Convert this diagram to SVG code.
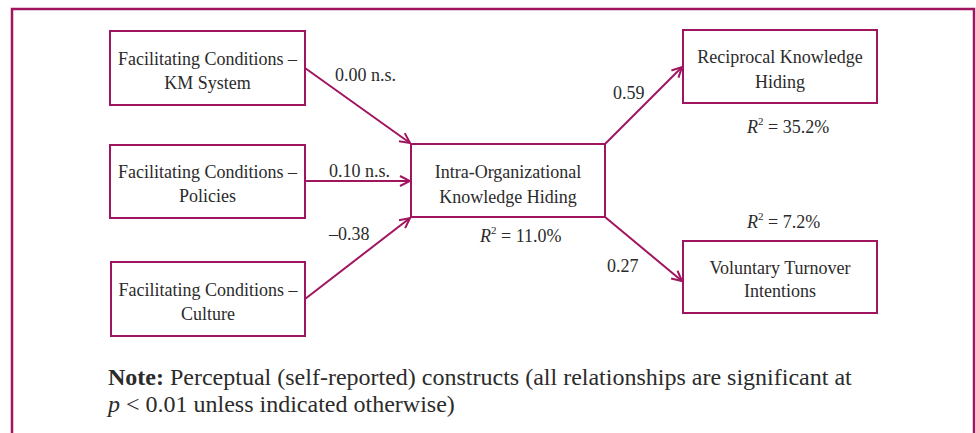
<svg xmlns="http://www.w3.org/2000/svg" width="976" height="433" viewBox="0 0 976 433" font-family="'Liberation Serif', 'DejaVu Serif', serif">
<defs>
<style>
.box{fill:#fff;stroke:#a0155f;stroke-width:2}
.edge{stroke:#a0155f;stroke-width:2;fill:none;marker-end:url(#arr)}
text{font-family:'Liberation Serif','DejaVu Serif',serif;fill:#2b2b2b;font-size:18px}
.c{text-anchor:middle}
.note{font-size:24px}
</style>
<marker id="arr" viewBox="0 0 12 12" refX="11" refY="6" markerWidth="12" markerHeight="12" markerUnits="userSpaceOnUse" orient="auto">
<path d="M1,1 L11,6 L1,11" fill="none" stroke="#a0155f" stroke-width="2"/>
</marker>
</defs>
<rect x="0" y="0" width="976" height="433" fill="#fff"/>
<rect x="12" y="9" width="962" height="440" fill="none" stroke="#a0155f" stroke-width="2.5"/>
<g id="connectors">
<line class="edge" x1="305" y1="68" x2="410" y2="143"/>
<line class="edge" x1="305" y1="181" x2="410" y2="181"/>
<line class="edge" x1="305" y1="299" x2="410" y2="218"/>
<line class="edge" x1="605" y1="144" x2="682" y2="67"/>
<line class="edge" x1="605" y1="217" x2="682" y2="281"/>
<text x="335" y="81">0.00 n.s.</text>
<text x="329" y="177">0.10 n.s.</text>
<text x="329" y="240">–0.38</text>
<text x="613" y="99">0.59</text>
<text x="607" y="272">0.27</text>
</g>
<g id="fc-km"><rect class="box" x="110" y="31" width="195" height="74"/><text class="c" x="207.5" y="65">Facilitating Conditions –</text><text class="c" x="207.5" y="89">KM System</text></g>
<g id="fc-policies"><rect class="box" x="110" y="145" width="195" height="73"/><text class="c" x="207.5" y="178">Facilitating Conditions –</text><text class="c" x="207.5" y="202">Policies</text></g>
<g id="fc-culture"><rect class="box" x="111" y="262" width="194" height="74"/><text class="c" x="208" y="296">Facilitating Conditions –</text><text class="c" x="208" y="320">Culture</text></g>
<g id="ikh"><rect class="box" x="411" y="144" width="194" height="73"/><text class="c" x="508" y="178">Intra-Organizational</text><text class="c" x="508" y="203">Knowledge Hiding</text><text x="480" y="242"><tspan font-style="italic">R</tspan><tspan dy="-8" font-size="11">2</tspan><tspan dy="8"> = 11.0%</tspan></text></g>
<g id="rkh"><rect class="box" x="683" y="30" width="194" height="73"/><text class="c" x="780" y="63">Reciprocal Knowledge</text><text class="c" x="780" y="88">Hiding</text><text x="747" y="133"><tspan font-style="italic">R</tspan><tspan dy="-8" font-size="11">2</tspan><tspan dy="8"> = 35.2%</tspan></text></g>
<g id="vti"><rect class="box" x="683" y="241" width="194" height="72"/><text class="c" x="780" y="274">Voluntary Turnover</text><text class="c" x="780" y="297">Intentions</text><text x="747" y="228"><tspan font-style="italic">R</tspan><tspan dy="-8" font-size="11">2</tspan><tspan dy="8"> = 7.2%</tspan></text></g>
<g id="note">
<text class="note" x="108" y="385"><tspan font-weight="bold">Note:</tspan> Perceptual (self-reported) constructs (all relationships are significant at</text>
<text class="note" x="108" y="412"><tspan font-style="italic">p</tspan> &lt; 0.01 unless indicated otherwise)</text>
</g>
</svg>
